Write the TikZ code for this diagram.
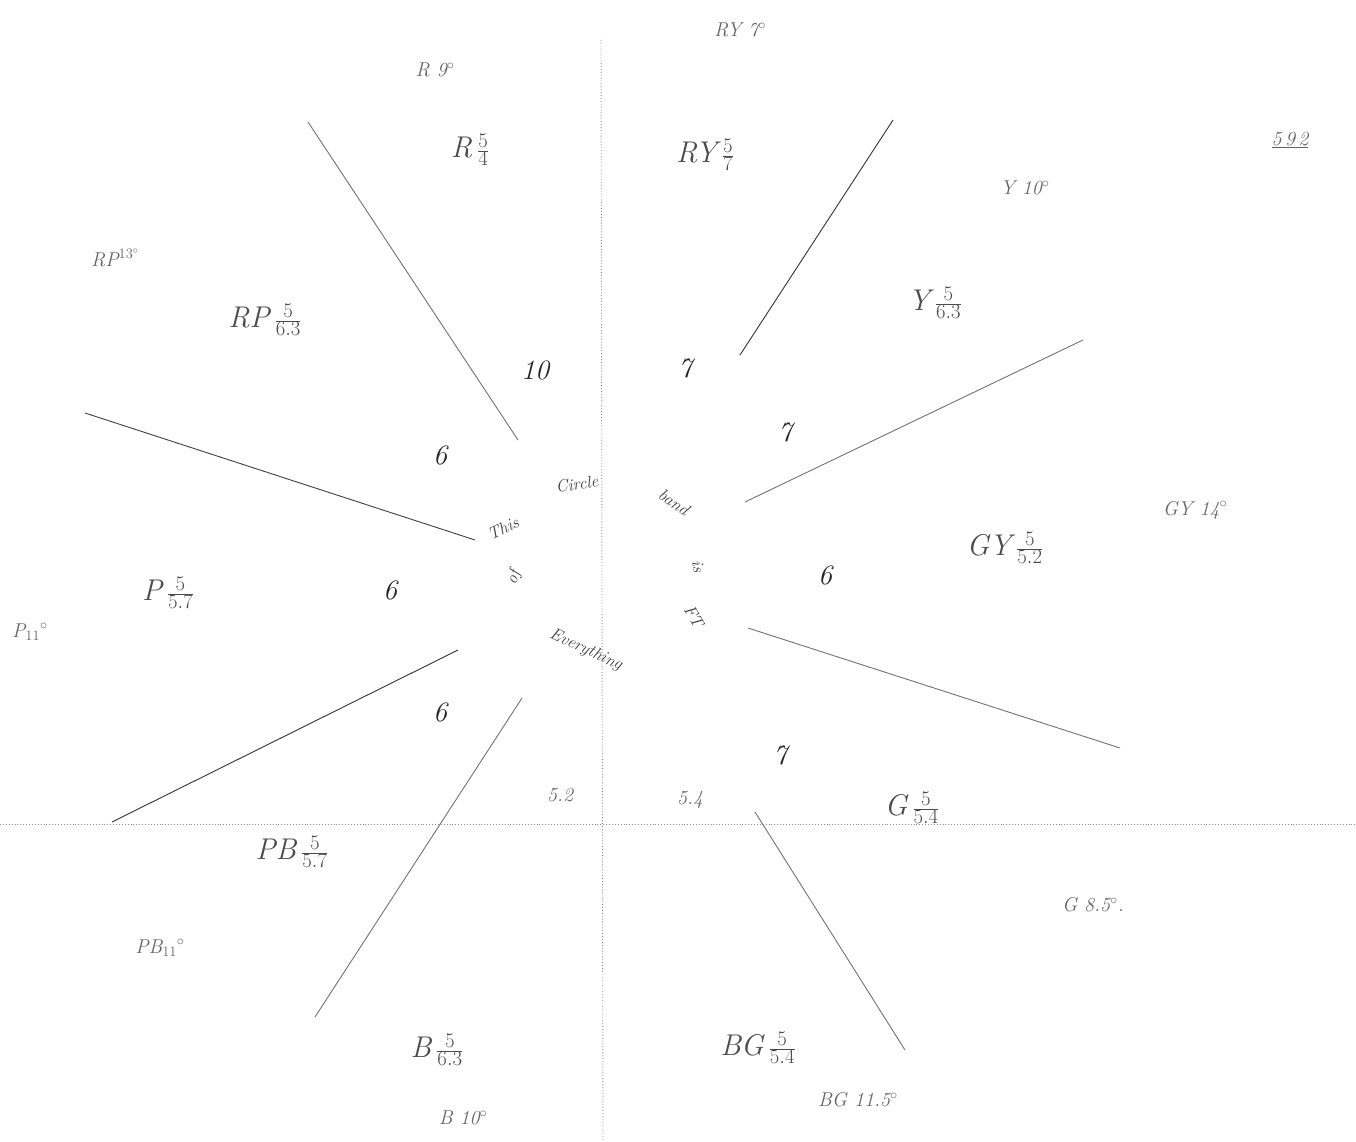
\documentclass[tikz,border=0pt]{standalone}
\usetikzlibrary{calc}
\begin{document}
\begin{tikzpicture}[x=1pt,y=-1pt,
  spoke/.style={draw=black!55,line width=0.9pt},
  axis/.style={draw=black!45,line width=0.9pt,dotted},
  hand/.style={text=black!70,font=\fontsize{30}{32}\selectfont\itshape,inner sep=1pt},
  small/.style={text=black!60,font=\fontsize{20}{22}\selectfont\itshape,inner sep=1pt},
  num/.style={text=black!85,font=\fontsize{28}{30}\selectfont\itshape,inner sep=1pt},
  ring/.style={text=black!75,font=\fontsize{17}{19}\selectfont\itshape,inner sep=0pt}]
\useasboundingbox[fill=white] (0,0) rectangle (1356,1142);
% axes
\coordinate (vt) at (601,40); \coordinate (vb) at (603,1142);
\coordinate (hl) at (0,824); \coordinate (hr) at (1356,824);
\draw[axis] (vt) -- (vb);
\draw[axis] (hl) -- (hr);
% spokes
\coordinate (s1a) at (308,122);  \coordinate (s1b) at (518,440);
\coordinate (s2a) at (893,120);  \coordinate (s2b) at (740,355);
\coordinate (s3a) at (1083,340); \coordinate (s3b) at (745,502);
\coordinate (s4a) at (748,628);  \coordinate (s4b) at (1120,748);
\coordinate (s5a) at (755,812);  \coordinate (s5b) at (905,1050);
\coordinate (s6a) at (522,698);  \coordinate (s6b) at (315,1017);
\coordinate (s7a) at (458,650);  \coordinate (s7b) at (112,822);
\coordinate (s8a) at (85,413);   \coordinate (s8b) at (475,540);
\draw[spoke] (s1a) -- (s1b);
\draw[spoke,draw=black!80] (s2a) -- (s2b);
\draw[spoke] (s3a) -- (s3b);
\draw[spoke] (s4a) -- (s4b);
\draw[spoke] (s5a) -- (s5b);
\draw[spoke] (s6a) -- (s6b);
\draw[spoke,draw=black!80] (s7a) -- (s7b);
\draw[spoke,draw=black!75] (s8a) -- (s8b);
% outer labels (hue angles)
\node[small] (tR)   at (435,70)   {R 9$^\circ$};
\node[small] (tRY)  at (740,30)   {RY 7$^\circ$};
\node[small] (tRP)  at (115,258)  {RP$^{13^\circ}$};
\node[small] (tY)   at (1025,188) {Y 10$^\circ$};
\node[small] (tGY)  at (1195,510) {GY 14$^\circ$};
\node[small] (tP)   at (30,632)   {P$_{11}$$^\circ$};
\node[small] (tPB)  at (160,948)  {PB$_{11}$$^\circ$};
\node[small] (tB)   at (463,1118) {B 10$^\circ$};
\node[small] (tG)   at (1093,905) {G 8.5$^\circ$.};
\node[small] (tBG)  at (858,1100) {BG 11.5$^\circ$};
\node[small] (t592) at (1290,140) {\underline{5\,9\,2}};
% inner labels (notations)
\node[hand] (nR)  at (470,150)  {R\,$\frac{5}{4}$};
\node[hand] (nRY) at (705,155)  {RY\,$\frac{5}{7}$};
\node[hand] (nRP) at (265,320)  {RP\,$\frac{5}{6.3}$};
\node[hand] (nY)  at (935,303)  {Y\,$\frac{5}{6.3}$};
\node[hand] (nGY) at (1005,548) {GY\,$\frac{5}{5.2}$};
\node[hand] (nP)  at (168,593)  {P\,$\frac{5}{5.7}$};
\node[hand] (nPB) at (292,852)  {PB\,$\frac{5}{5.7}$};
\node[hand] (nG)  at (912,808)  {G\,$\frac{5}{5.4}$};
\node[hand] (nB)  at (437,1050) {B\,$\frac{5}{6.3}$};
\node[hand] (nBG) at (758,1048) {BG\,$\frac{5}{5.4}$};
% value numbers
\node[num] (v1) at (440,455) {6};
\node[num] (v2) at (390,590) {6};
\node[num] (v3) at (440,712) {6};
\node[num] (v4) at (825,575) {6};
\node[num] (v5) at (535,370) {10};
\node[num] (v6) at (685,368) {7};
\node[num] (v7) at (785,432) {7};
\node[num] (v8) at (780,755) {7};
\node[small] (v9)  at (560,795) {5.2};
\node[small] (v10) at (690,800) {5.4};
% centre circle of handwritten words
\node[ring,rotate=25]  (c1) at (503,528) {This};
\node[ring,rotate=8]   (c2) at (577,484) {Circle};
\node[ring,rotate=-35] (c3) at (674,502) {band};
\node[ring,rotate=-80] (c4) at (698,566) {is};
\node[ring,rotate=-60] (c5) at (694,616) {FT};
\node[ring,rotate=-25] (c6) at (586,650) {Everything};
\node[ring,rotate=70]  (c7) at (514,578) {of};
\end{tikzpicture}
\end{document}
